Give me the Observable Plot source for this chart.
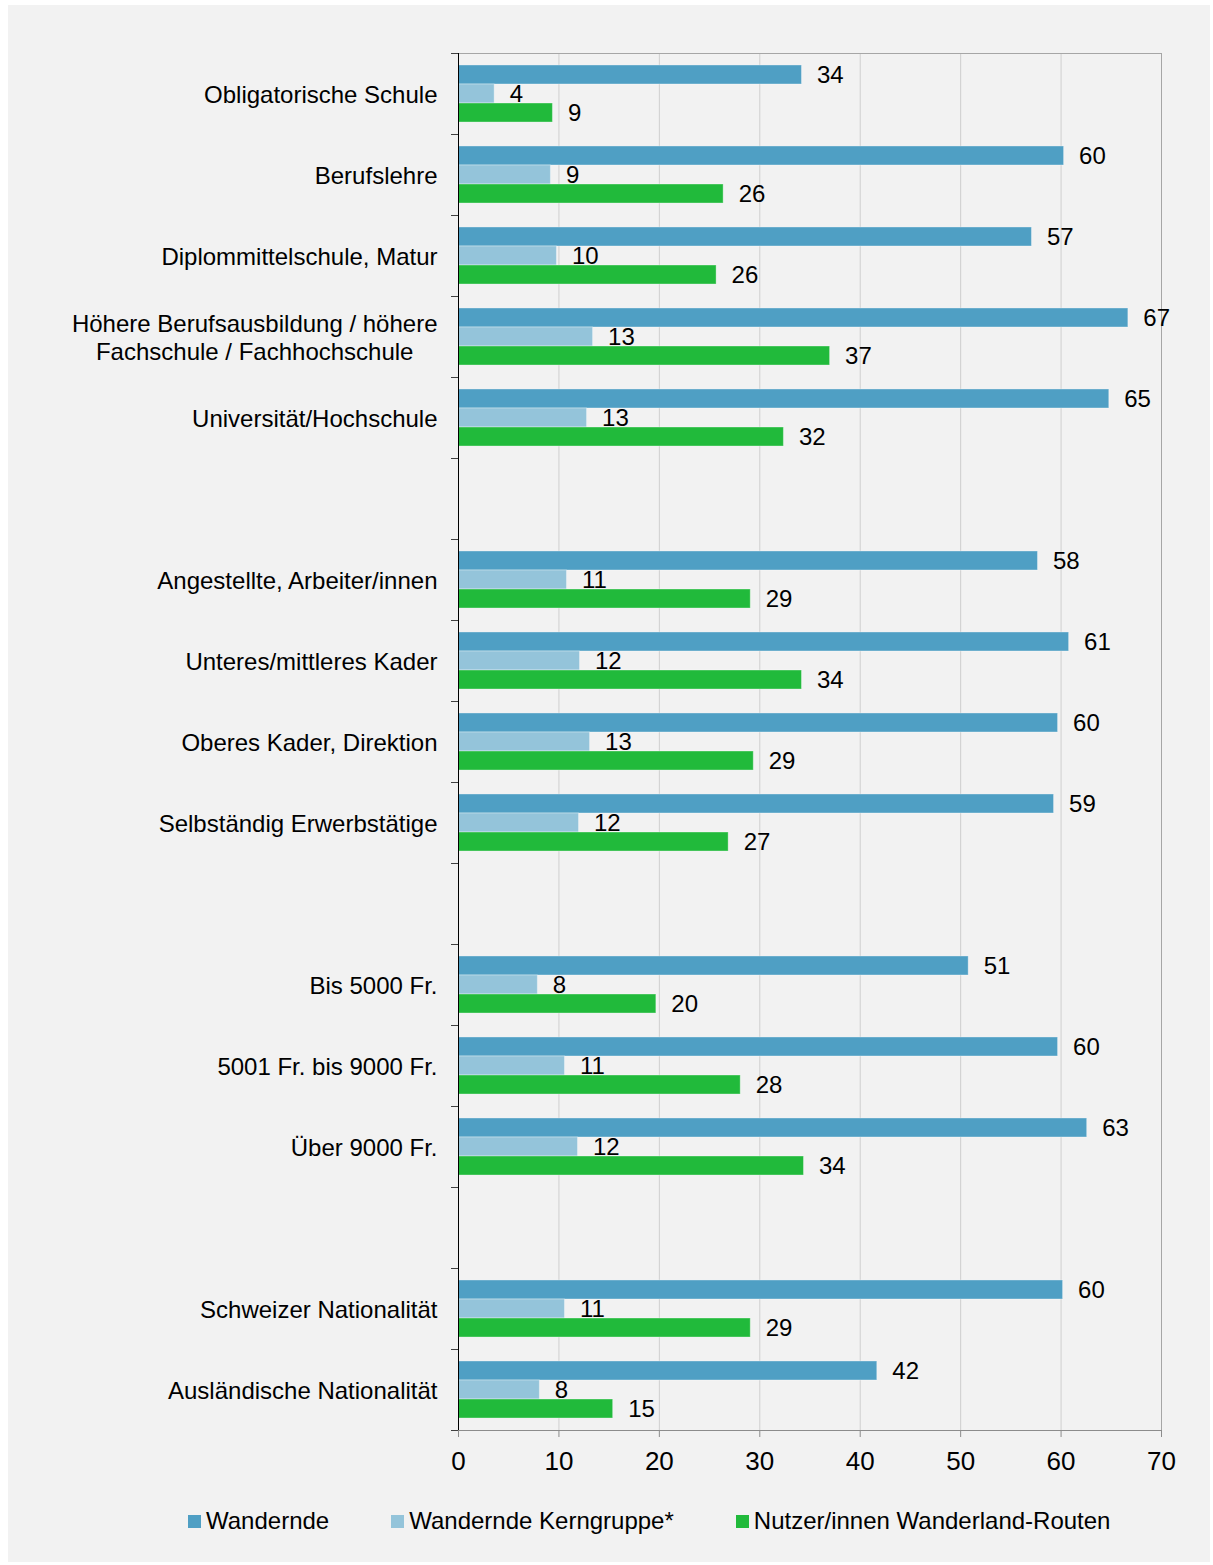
<!DOCTYPE html>
<html>
<head>
<meta charset="utf-8">
<script src="https://cdn.jsdelivr.net/npm/d3@7"></script>
<script src="https://cdn.jsdelivr.net/npm/@observablehq/plot@0.6"></script>
<style>
  body { margin: 0; background: #ffffff; font-family: Arial, "Liberation Sans", sans-serif; }
  #wrap { position: absolute; left: 8px; top: 5px; width: 1202px; height: 1557px; background: #f2f2f2; overflow: hidden; }
  #chart { position: absolute; left: 0; top: 0; }
  #legend { position: absolute; left: 180px; top: 1502px; display: flex; font-size: 24px; line-height: 28px; color: #000; white-space: nowrap; }
  .item { display: flex; align-items: center; margin-right: 62px; }
  .sw { width: 13px; height: 13px; margin-right: 5px; }
</style>
</head>
<body>
<div id="wrap">
  <div id="chart"></div>
  <div id="legend"></div>
</div>
<script>
// ---- data ----
const categories = [
  "Obligatorische Schule",
  "Berufslehre",
  "Diplommittelschule, Matur",
  "Höhere Berufsausbildung / höhere\nFachschule / Fachhochschule",
  "Universität/Hochschule",
  " ",
  "Angestellte, Arbeiter/innen",
  "Unteres/mittleres Kader",
  "Oberes Kader, Direktion",
  "Selbständig Erwerbstätige",
  "  ",
  "Bis 5000 Fr.",
  "5001 Fr. bis 9000 Fr.",
  "Über 9000 Fr.",
  "   ",
  "Schweizer Nationalität",
  "Ausländische Nationalität"
];
const series = ["Wandernde", "Wandernde Kerngruppe*", "Nutzer/innen Wanderland-Routen"];
const seriesColors = ["#4f9fc4", "#94c4da", "#21ba3b"];
const wandernde  = [34.2, 60.3, 57.1, 66.7, 64.8, null, 57.7, 60.8, 59.7, 59.3, null, 50.8, 59.7, 62.6, null, 60.2, 41.7];
const kerngruppe = [3.6, 9.2, 9.8, 13.4, 12.8, null, 10.8, 12.1, 13.1, 12.0, null, 7.9, 10.6, 11.9, null, 10.6, 8.1];
const nutzer     = [9.4, 26.4, 25.7, 37.0, 32.4, null, 29.1, 34.2, 29.4, 26.9, null, 19.7, 28.1, 34.4, null, 29.1, 15.4];
const xTicks = [0, 10, 20, 30, 40, 50, 60, 70];

const valueSets = [wandernde, kerngruppe, nutzer];
const rows = [];
categories.forEach((cat, i) => {
  series.forEach((s, j) => rows.push({cat, series: s, value: valueSets[j][i]}));
});

const FONT = "Arial, 'Liberation Sans', sans-serif";

const chart = Plot.plot({
  width: 1202,
  height: 1476,
  marginLeft: 450,
  marginRight: 49,
  marginTop: 41,
  marginBottom: 44,
  style: {background: "none", fontFamily: FONT, color: "#000", overflow: "visible"},
  x: {domain: [xTicks[0], xTicks[xTicks.length - 1]], label: null},
  fy: {domain: categories, padding: 0, label: null},
  y: {domain: series, paddingInner: 0, paddingOuter: 0.63, axis: null, round: false},
  color: {domain: series, range: seriesColors},
  marks: [
    Plot.gridX({ticks: xTicks.slice(1, -1), stroke: "#cfcfcf", strokeOpacity: 1}),
    Plot.ruleX([xTicks[xTicks.length - 1]], {stroke: "#a6a6a6"}),
    Plot.barX(rows, {
      fy: "cat", y: "series", x: "value",
      fill: "series", stroke: "#ffffff", strokeOpacity: 0.35, strokeWidth: 1
    }),
    Plot.text(rows, {
      fy: "cat", y: "series", x: "value",
      text: d => d.value == null ? null : String(Math.round(d.value)),
      textAnchor: "start", dx: 15, fontSize: 24, fill: "#000"
    }),
    Plot.ruleX([0], {stroke: "#000"}),
    Plot.axisX({
      ticks: xTicks, tickSize: 7, tickPadding: 14, stroke: "#8c8c8c",
      fill: "#000", fontSize: 26, label: null, facetAnchor: "bottom"
    }),
    Plot.axisFy({
      anchor: "left", tickSize: 0, tickPadding: 21, fontSize: 24,
      lineHeight: 1.17, label: null, fill: "#000"
    })
  ]
});

document.getElementById("chart").append(chart);

// frame lines and band boundary ticks from the plot's scales
const svg = d3.select(chart);
const xs = chart.scale("x");
const fys = chart.scale("fy");
const x0 = xs.apply(0), x1 = xs.apply(xTicks[xTicks.length - 1]);
const bounds = fys.domain.map(d => fys.apply(d));
bounds.push(bounds[bounds.length - 1] + fys.bandwidth);
const g = svg.append("g").attr("shape-rendering", "crispEdges");
g.append("line").attr("x1", x0).attr("x2", x1).attr("y1", bounds[0]).attr("y2", bounds[0]).attr("stroke", "#a6a6a6");
g.append("line").attr("x1", x0).attr("x2", x1).attr("y1", bounds[bounds.length - 1]).attr("y2", bounds[bounds.length - 1]).attr("stroke", "#8c8c8c");
bounds.forEach(b => {
  g.append("line").attr("x1", x0 - 7).attr("x2", x0).attr("y1", b).attr("y2", b).attr("stroke", "#404040");
});
g.append("line").attr("x1", x0).attr("x2", x0).attr("y1", bounds[0]).attr("y2", bounds[bounds.length - 1]).attr("stroke", "#000");

// center the lines of multi-line category labels
svg.selectAll('[aria-label="fy-axis tick label"] text').each(function () {
  const ts = this.querySelectorAll("tspan");
  if (ts.length > 1) {
    const b = this.getBBox();
    const cx = b.x + b.width / 2;
    this.setAttribute("text-anchor", "middle");
    ts.forEach(t => t.setAttribute("x", cx));
  }
});

// legend
const legend = d3.select("#legend");
series.forEach((s, i) => {
  const it = legend.append("div").attr("class", "item");
  it.append("div").attr("class", "sw").style("background", seriesColors[i]);
  it.append("span").text(s);
});
</script>
</body>
</html>
